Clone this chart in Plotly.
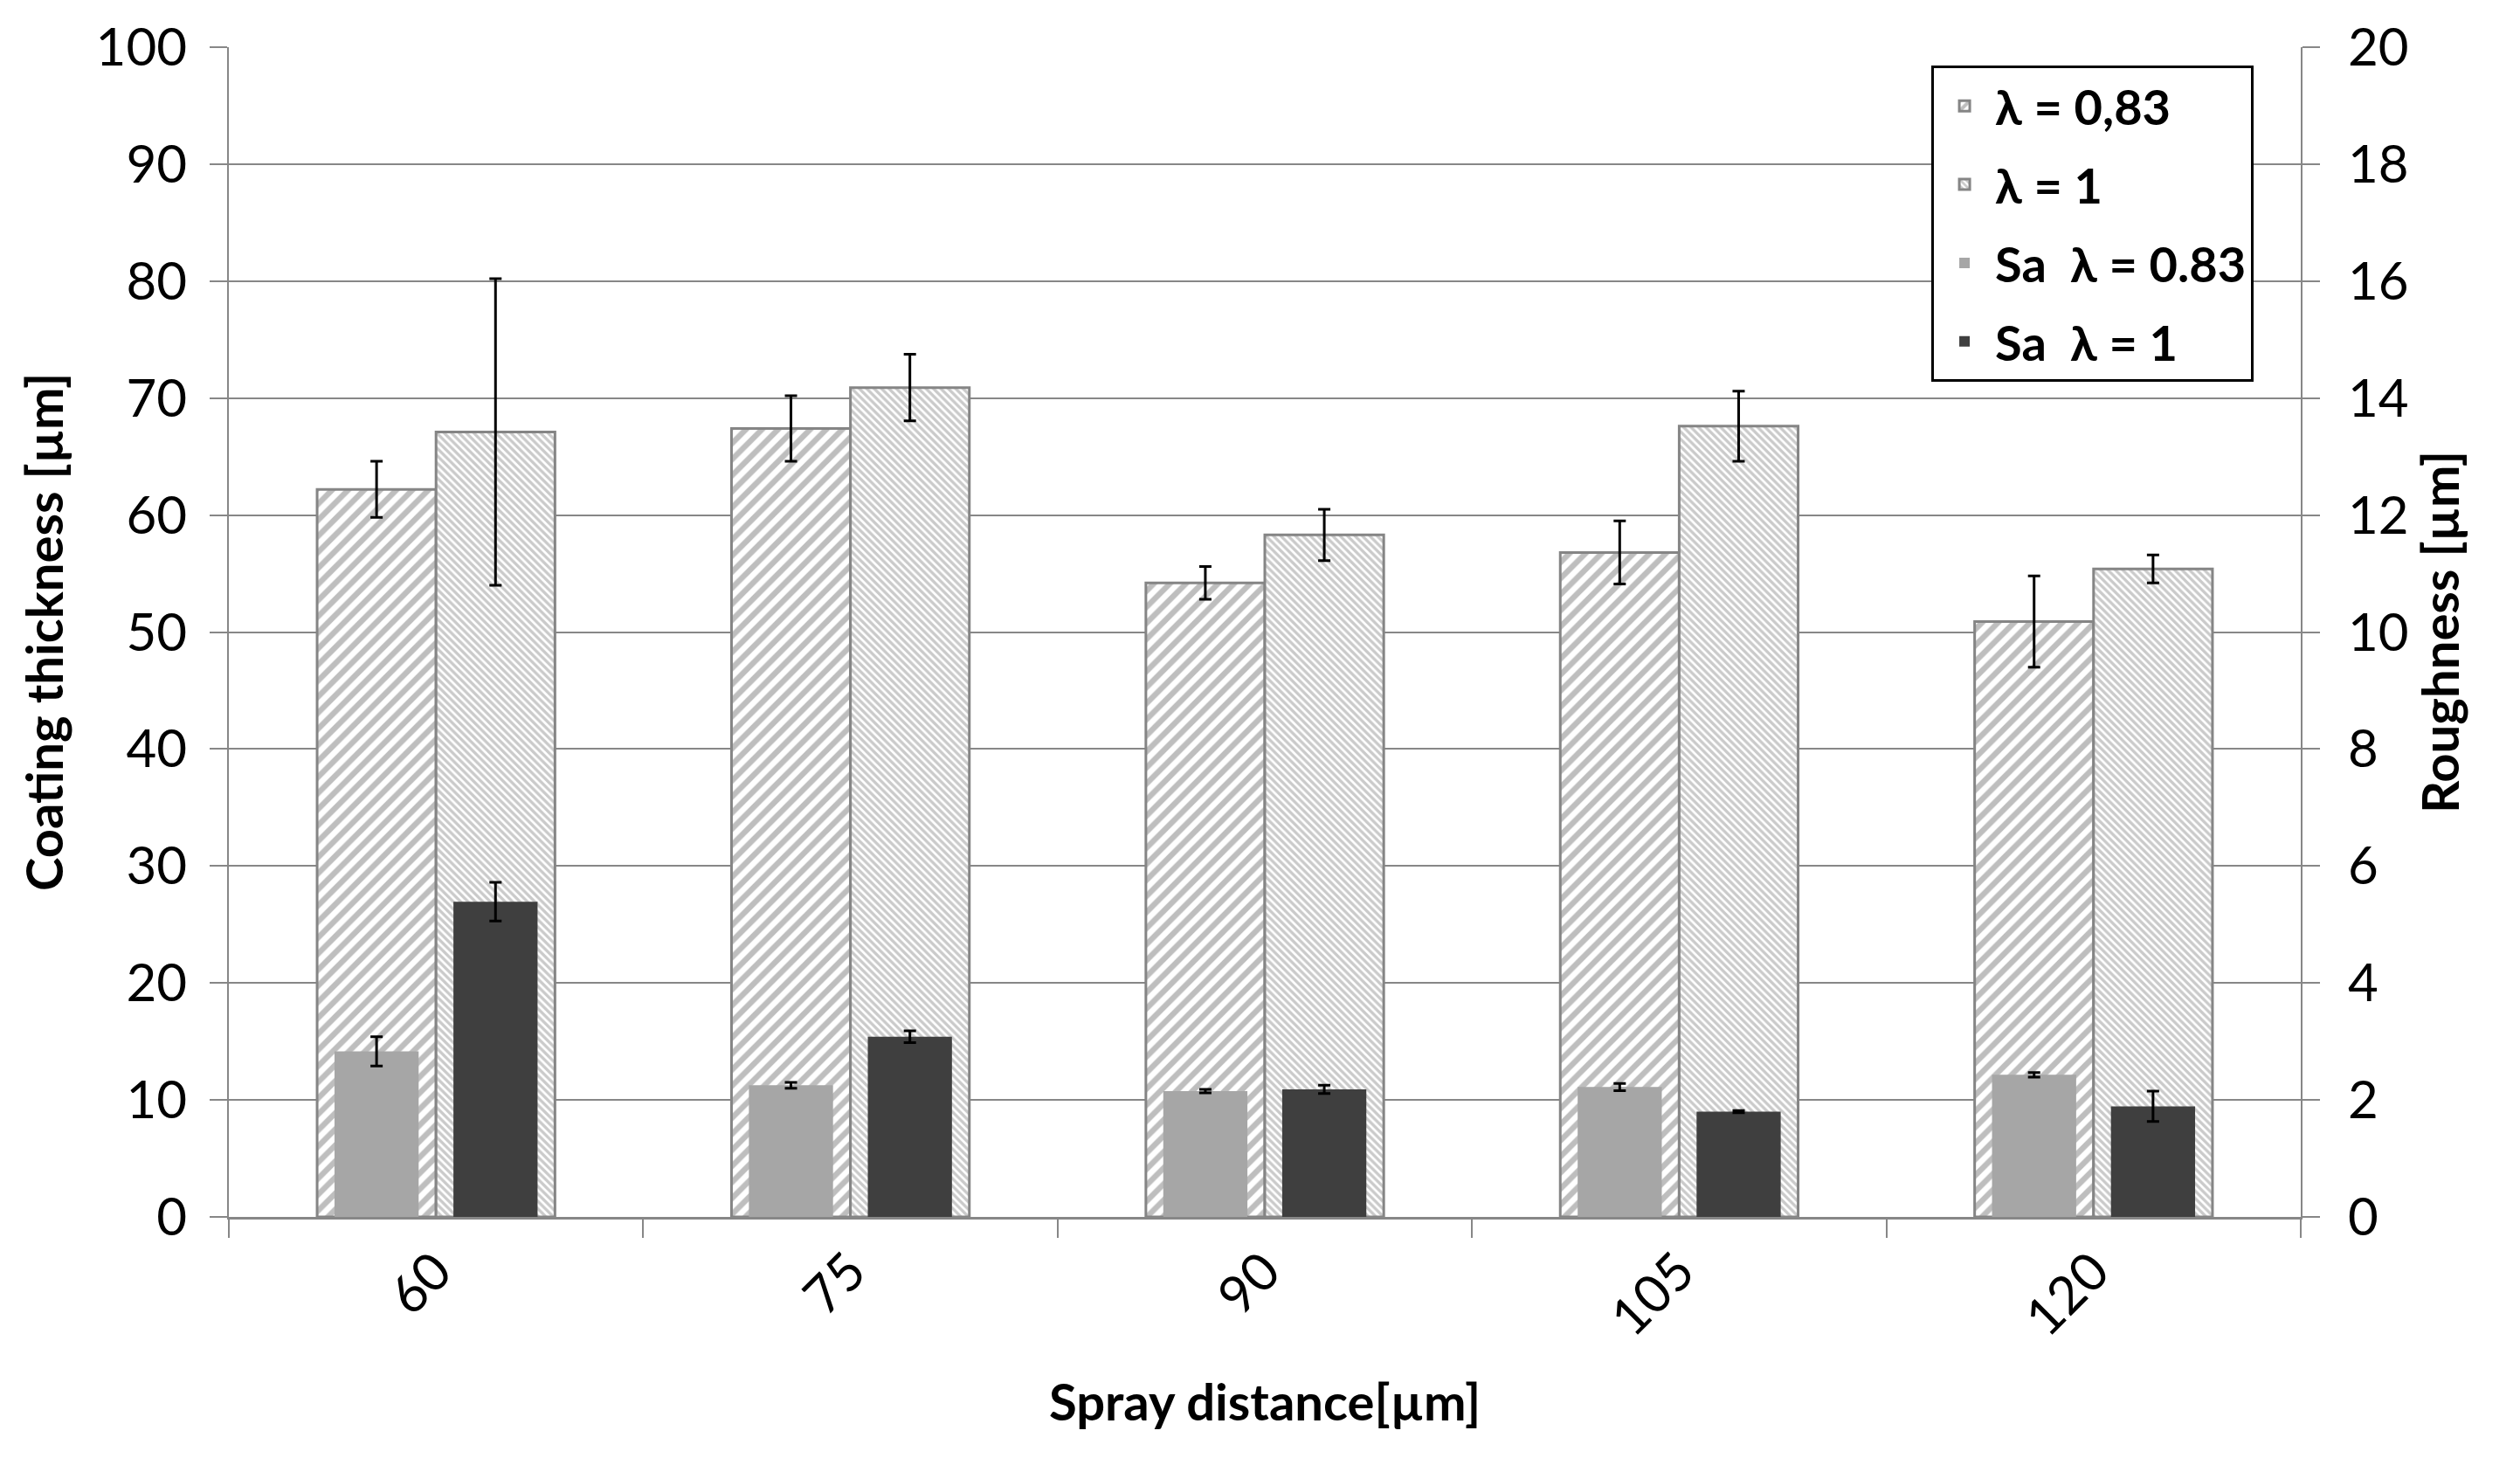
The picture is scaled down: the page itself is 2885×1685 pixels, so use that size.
import plotly.graph_objects as go

categories = ["60", "75", "90", "105", "120"]

thick_083 = [62.2, 67.4, 54.2, 56.8, 50.9]
thick_083_err = [2.4, 2.8, 1.4, 2.7, 3.9]
thick_1 = [67.1, 70.9, 58.3, 67.6, 55.4]
thick_1_err = [13.1, 2.85, 2.2, 3.0, 1.2]

sa_083 = [2.83, 2.25, 2.15, 2.22, 2.43]
sa_083_err = [0.25, 0.05, 0.03, 0.06, 0.04]
sa_1 = [5.39, 3.08, 2.18, 1.80, 1.89]
sa_1_err = [0.33, 0.10, 0.07, 0.02, 0.26]

y1_ticks = list(range(0, 101, 10))
y2_ticks = list(range(0, 21, 2))

FONT = "Lato"
GRID = "#878787"

err_style = dict(type="data", visible=True, color="black", thickness=3, width=7)

fig = go.Figure()

fig.add_trace(go.Bar(
    name="λ = 0,83", x=categories, y=thick_083,
    error_y=dict(array=thick_083_err, **err_style),
    width=0.287, offset=-0.287,
    marker=dict(color="white", line=dict(color="#858585", width=3),
                pattern=dict(shape="/", size=13, solidity=0.5,
                             fgcolor="#7d7d7d", bgcolor="white")),
    legendgroup="a", yaxis="y",
))
fig.add_trace(go.Bar(
    name="λ = 1", x=categories, y=thick_1,
    error_y=dict(array=thick_1_err, **err_style),
    width=0.287, offset=0.0,
    marker=dict(color="white", line=dict(color="#858585", width=3),
                pattern=dict(shape="\\", size=6, solidity=0.55,
                             fgcolor="#959595", bgcolor="white")),
    legendgroup="b", yaxis="y",
))
fig.add_trace(go.Bar(
    name="Sa  λ = 0.83", x=categories, y=sa_083,
    error_y=dict(array=sa_083_err, **err_style),
    width=0.203, offset=-0.245,
    marker=dict(color="#a6a6a6", line=dict(width=0)),
    legendgroup="c", yaxis="y2",
))
fig.add_trace(go.Bar(
    name="Sa  λ = 1", x=categories, y=sa_1,
    error_y=dict(array=sa_1_err, **err_style),
    width=0.203, offset=0.042,
    marker=dict(color="#3f3f3f", line=dict(width=0)),
    legendgroup="d", yaxis="y2",
))

fig.update_layout(
    width=2885, height=1685,
    margin=dict(l=254, r=259, t=46, b=300, autoexpand=False),
    paper_bgcolor="white", plot_bgcolor="white",
    barmode="overlay",
    font=dict(family=FONT, size=60, color="black"),
    showlegend=True,
    legend=dict(
        x=0.8217, y=0.984, xanchor="left", yanchor="top",
        bgcolor="white", bordercolor="black", borderwidth=3,
        font=dict(family=FONT, size=56, color="black", weight="bold"),
        traceorder="grouped", tracegroupgap=14,
        itemwidth=60,
    ),
    xaxis=dict(
        type="category", categoryorder="array", categoryarray=categories,
        tickangle=-45, tickson="boundaries",
        ticks="outside", ticklen=21, tickwidth=2, tickcolor=GRID,
        showline=True, linecolor=GRID, linewidth=3,
        showgrid=False,
        tickfont=dict(family=FONT, size=60),
        title=dict(text="Spray distance[µm]", standoff=45,
                   font=dict(family=FONT, size=58, weight="bold")),
        automargin=False,
    ),
    yaxis=dict(
        range=[0, 100], tickvals=y1_ticks,
        ticks="outside", ticklen=20, tickwidth=2, tickcolor=GRID,
        showline=True, linecolor=GRID, linewidth=2,
        showgrid=True, gridcolor=GRID, gridwidth=2,
        zeroline=False,
        tickfont=dict(family=FONT, size=60),
        ticklabelstandoff=14,
        title=dict(text="Coating thickness [µm]", standoff=18,
                   font=dict(family=FONT, size=58, weight="bold")),
        automargin=False,
    ),
    yaxis2=dict(
        range=[0, 20], tickvals=y2_ticks,
        overlaying="y", side="right",
        ticks="outside", ticklen=20, tickwidth=2, tickcolor=GRID,
        showline=True, linecolor=GRID, linewidth=2,
        showgrid=False, zeroline=False,
        tickfont=dict(family=FONT, size=60),
        ticklabelstandoff=20,
        title=dict(text="Roughness [µm]", standoff=18,
                   font=dict(family=FONT, size=58, weight="bold")),
        automargin=False,
    ),
)

fig.write_html("out.html")
